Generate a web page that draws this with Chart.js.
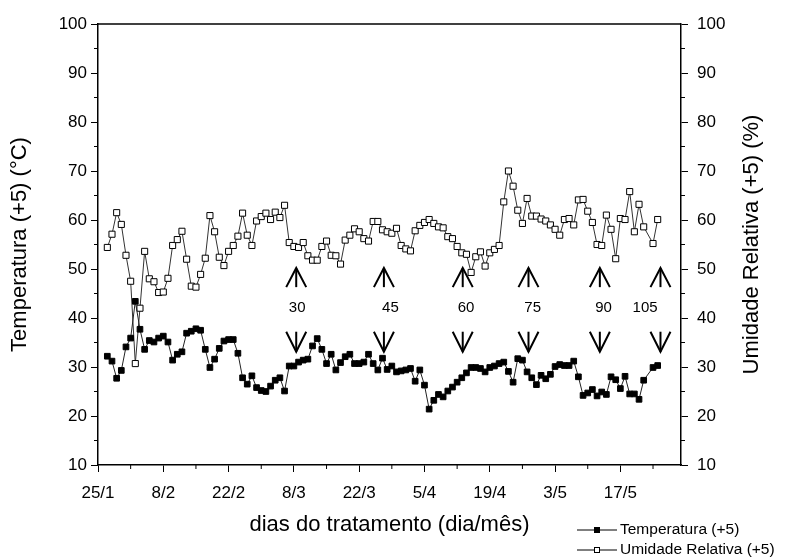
<!DOCTYPE html>
<html>
<head>
<meta charset="utf-8">
<script src="https://cdn.jsdelivr.net/npm/chart.js@4.4.0/dist/chart.umd.min.js"></script>
<style>
    body { margin: 0; background: #fff; }
    #wrap { width: 788px; height: 560px; }
</style>
</head>
<body>
<div id="wrap"><canvas id="climaChart" width="788" height="560"></canvas></div>
<script>
// dias contados a partir de 25/1
var dias = [2, 3, 4, 5, 6, 7, 8, 9, 10, 11,
    12, 13, 14, 15, 16, 17, 18, 19, 20, 21,
    22, 23, 24, 25, 26, 27, 28, 29, 30, 31,
    32, 33, 34, 35, 36, 37, 38, 39, 40, 41,
    42, 43, 44, 45, 46, 47, 48, 49, 50, 51,
    52, 53, 54, 55, 56, 57, 58, 59, 60, 61,
    62, 63, 64, 65, 66, 67, 68, 69, 70, 71,
    72, 73, 74, 75, 76, 77, 78, 79, 80, 81,
    82, 83, 84, 85, 86, 87, 88, 89, 90, 91,
    92, 93, 94, 95, 96, 97, 98, 99, 100, 101,
    102, 103, 104, 105, 106, 107, 108, 109, 110, 111,
    112, 113, 114, 115, 116, 117, 119, 120];

var temperatura = [32.2, 31.2, 27.7, 29.3, 34.1, 35.9, 43.4, 37.7, 33.6, 35.4,
    35.1, 35.9, 36.3, 35.1, 31.4, 32.6, 33.1, 36.9, 37.3, 37.8,
    37.5, 33.6, 29.9, 31.6, 33.8, 35.3, 35.6, 35.6, 32.8, 27.8,
    26.5, 28.2, 25.8, 25.2, 25.0, 26.1, 27.3, 27.8, 25.1, 30.2,
    30.2, 31.0, 31.4, 31.6, 34.3, 35.8, 33.6, 30.7, 32.6, 29.4,
    30.9, 32.1, 32.6, 30.7, 30.7, 31.0, 32.6, 30.7, 29.4, 31.8,
    29.5, 30.2, 29.0, 29.2, 29.4, 29.7, 27.1, 29.4, 26.3, 21.4,
    23.2, 24.4, 23.9, 25.1, 25.9, 26.9, 27.8, 28.8, 29.9, 29.9,
    29.7, 29.0, 29.9, 30.2, 30.7, 31.0, 29.1, 26.9, 31.7, 31.4,
    29.0, 27.8, 26.4, 28.3, 27.6, 28.5, 30.1, 30.5, 30.3, 30.3,
    31.2, 28.0, 24.2, 24.7, 25.4, 24.1, 24.9, 24.4, 28.0, 27.4,
    25.6, 28.1, 24.5, 24.5, 23.4, 27.3, 29.9, 30.3];

var umidade = [54.4, 57.1, 61.5, 59.1, 52.8, 47.5, 30.7, 42.0, 53.6, 48.0,
    47.4, 45.2, 45.3, 48.1, 54.8, 56.0, 57.7, 52.0, 46.5, 46.3,
    48.9, 52.2, 60.9, 57.6, 52.4, 50.7, 53.6, 54.8, 56.7, 61.4,
    56.9, 54.8, 59.8, 60.7, 61.4, 60.1, 61.6, 60.5, 63.0, 55.4,
    54.6, 54.4, 55.4, 52.7, 51.8, 51.8, 54.6, 55.7, 52.8, 52.7,
    51.0, 55.9, 56.9, 58.2, 57.6, 56.2, 55.7, 59.7, 59.7, 58.0,
    57.6, 57.3, 58.3, 54.8, 54.1, 53.7, 57.8, 58.9, 59.5, 60.1,
    59.3, 58.6, 58.4, 56.6, 56.2, 54.6, 53.3, 53.0, 49.3, 52.5,
    53.5, 50.6, 53.3, 54.0, 54.8, 63.7, 70.0, 66.9, 62.0, 59.3,
    64.4, 60.8, 60.8, 60.2, 59.8, 59.0, 58.1, 56.9, 60.1, 60.3,
    59.0, 64.1, 64.2, 61.8, 59.5, 55.0, 54.8, 61.0, 58.1, 52.1,
    60.3, 60.1, 65.8, 57.6, 63.2, 58.6, 55.2, 60.1];

var rotulosData = ['25/1', '8/2', '22/2', '8/3', '22/3', '5/4', '19/4', '3/5', '17/5'];

// setas: dia da seta, texto e dia onde o texto fica
var setasDia = [42.5, 61.3, 78.2, 92.3, 107.6, 120.6];
var setasTexto = ['30', '45', '60', '75', '90', '105'];
var setasTextoDia = [42.7, 62.7, 78.9, 93.2, 108.4, 117.3];

var fonte = "'Liberation Sans', Arial, sans-serif";
Chart.defaults.font.family = fonte;
Chart.defaults.color = '#000';

function pontos(ys) {
    return dias.map(function (d, i) { return { x: d, y: ys[i] }; });
}

function linha(ctx, x1, y1, x2, y2) {
    ctx.beginPath();
    ctx.moveTo(x1, y1);
    ctx.lineTo(x2, y2);
    ctx.stroke();
}

var extras = {
    id: 'extras',
    afterDraw: function (chart) {
        var ctx = chart.ctx, a = chart.chartArea;
        var sx = chart.scales.x, sy = chart.scales.y;
        ctx.save();
        ctx.strokeStyle = '#000';
        ctx.fillStyle = '#000';

        // borda de cima
        ctx.lineWidth = 1.5;
        linha(ctx, a.left, a.top, a.right, a.top);

        // ticks menores
        ctx.lineWidth = 1;
        for (var d = 7; d < 125; d += 14) {
            var px = sx.getPixelForValue(d);
            linha(ctx, px, a.bottom, px, a.bottom + 4);
        }
        for (var v = 15; v < 100; v += 10) {
            var py = sy.getPixelForValue(v);
            linha(ctx, a.left - 4, py, a.left, py);
            linha(ctx, a.right, py, a.right + 4, py);
        }

        // setas
        ctx.lineWidth = 2;
        var yTopo = sy.getPixelForValue(50.2), yBase = sy.getPixelForValue(46.3);
        var yTxt = sy.getPixelForValue(42);
        var yDesc = sy.getPixelForValue(37.2), yPonta = sy.getPixelForValue(33.1);
        ctx.font = '15px ' + fonte;
        ctx.textAlign = 'center';
        ctx.textBaseline = 'middle';
        setasDia.forEach(function (dia, i) {
            var x = sx.getPixelForValue(dia);
            linha(ctx, x, yTopo, x, yBase);
            ctx.beginPath();
            ctx.moveTo(x - 10, yBase);
            ctx.lineTo(x, yTopo);
            ctx.lineTo(x + 10, yBase);
            ctx.stroke();
            linha(ctx, x, yDesc, x, yPonta);
            ctx.beginPath();
            ctx.moveTo(x - 10, yDesc);
            ctx.lineTo(x, yPonta);
            ctx.lineTo(x + 10, yDesc);
            ctx.stroke();
            ctx.fillText(setasTexto[i], sx.getPixelForValue(setasTextoDia[i]), yTxt);
        });

        // título do eixo direito
        ctx.save();
        ctx.translate(752, (a.top + a.bottom) / 2);
        ctx.rotate(-Math.PI / 2);
        ctx.font = '22px ' + fonte;
        ctx.fillText('Umidade Relativa (+5) (%)', 0, 0);
        ctx.restore();

        // legenda
        ctx.lineWidth = 1;
        ctx.font = '15.5px ' + fonte;
        ctx.textAlign = 'left';
        var itens = chart.data.datasets;
        itens.forEach(function (ds, i) {
            var ly = 530 + i * 20;
            linha(ctx, 577, ly, 617, ly);
            ctx.fillStyle = ds.pointBackgroundColor;
            ctx.fillRect(594.5, ly - 2.5, 5, 5);
            ctx.strokeRect(594.5, ly - 2.5, 5, 5);
            ctx.fillStyle = '#000';
            ctx.fillText(ds.label, 620, ly);
        });
        ctx.restore();
    }
};

var ctx = document.getElementById('climaChart').getContext('2d');
var climaChart = new Chart(ctx, {
    type: 'line',
    data: {
        datasets: [{
            label: 'Temperatura (+5)',
            data: pontos(temperatura),
            yAxisID: 'y',
            borderColor: '#222',
            borderWidth: 1,
            pointStyle: 'rect',
            pointRadius: 4,
            pointBackgroundColor: '#000',
            pointBorderColor: '#000',
            pointBorderWidth: 1,
            tension: 0
        }, {
            label: 'Umidade Relativa (+5)',
            data: pontos(umidade),
            yAxisID: 'y1',
            borderColor: '#333',
            borderWidth: 1,
            pointStyle: 'rect',
            pointRadius: 4.3,
            pointBackgroundColor: '#fff',
            pointBorderColor: '#000',
            pointBorderWidth: 1,
            tension: 0
        }]
    },
    options: {
        responsive: false,
        animation: false,
        layout: { padding: { top: 24 } },
        plugins: {
            legend: { display: false },
            tooltip: { enabled: false }
        },
        scales: {
            x: {
                type: 'linear',
                min: 0,
                max: 125,
                afterFit: function (s) { s.height = 95; },
                afterBuildTicks: function (s) {
                    s.ticks = rotulosData.map(function (r, i) { return { value: i * 14 }; });
                },
                ticks: {
                    font: { size: 17 },
                    padding: 11,
                    maxRotation: 0,
                    callback: function (value) { return rotulosData[Math.round(value / 14)]; }
                },
                grid: { drawOnChartArea: false, tickLength: 7, color: '#000' },
                border: { color: '#000', width: 1.5 },
                title: {
                    display: true,
                    text: 'dias do tratamento (dia/mês)',
                    font: { size: 22 },
                    padding: { top: 4, bottom: 22 }
                }
            },
            y: {
                position: 'left',
                min: 10,
                max: 100,
                afterFit: function (s) { s.width = 98; },
                ticks: { stepSize: 10, font: { size: 17 }, padding: 4 },
                grid: { drawOnChartArea: false, tickLength: 7, color: '#000' },
                border: { color: '#000', width: 1.5 },
                title: {
                    display: true,
                    text: 'Temperatura (+5) (°C)',
                    font: { size: 22 },
                    padding: { top: 7, bottom: 0 }
                }
            },
            y1: {
                position: 'right',
                min: 10,
                max: 100,
                afterFit: function (s) { s.width = 107; },
                ticks: { stepSize: 10, font: { size: 17 }, padding: 9 },
                grid: { drawOnChartArea: false, tickLength: 7, color: '#000' },
                border: { color: '#000', width: 1.5 }
            }
        }
    },
    plugins: [extras]
});
</script>
</body>
</html>
